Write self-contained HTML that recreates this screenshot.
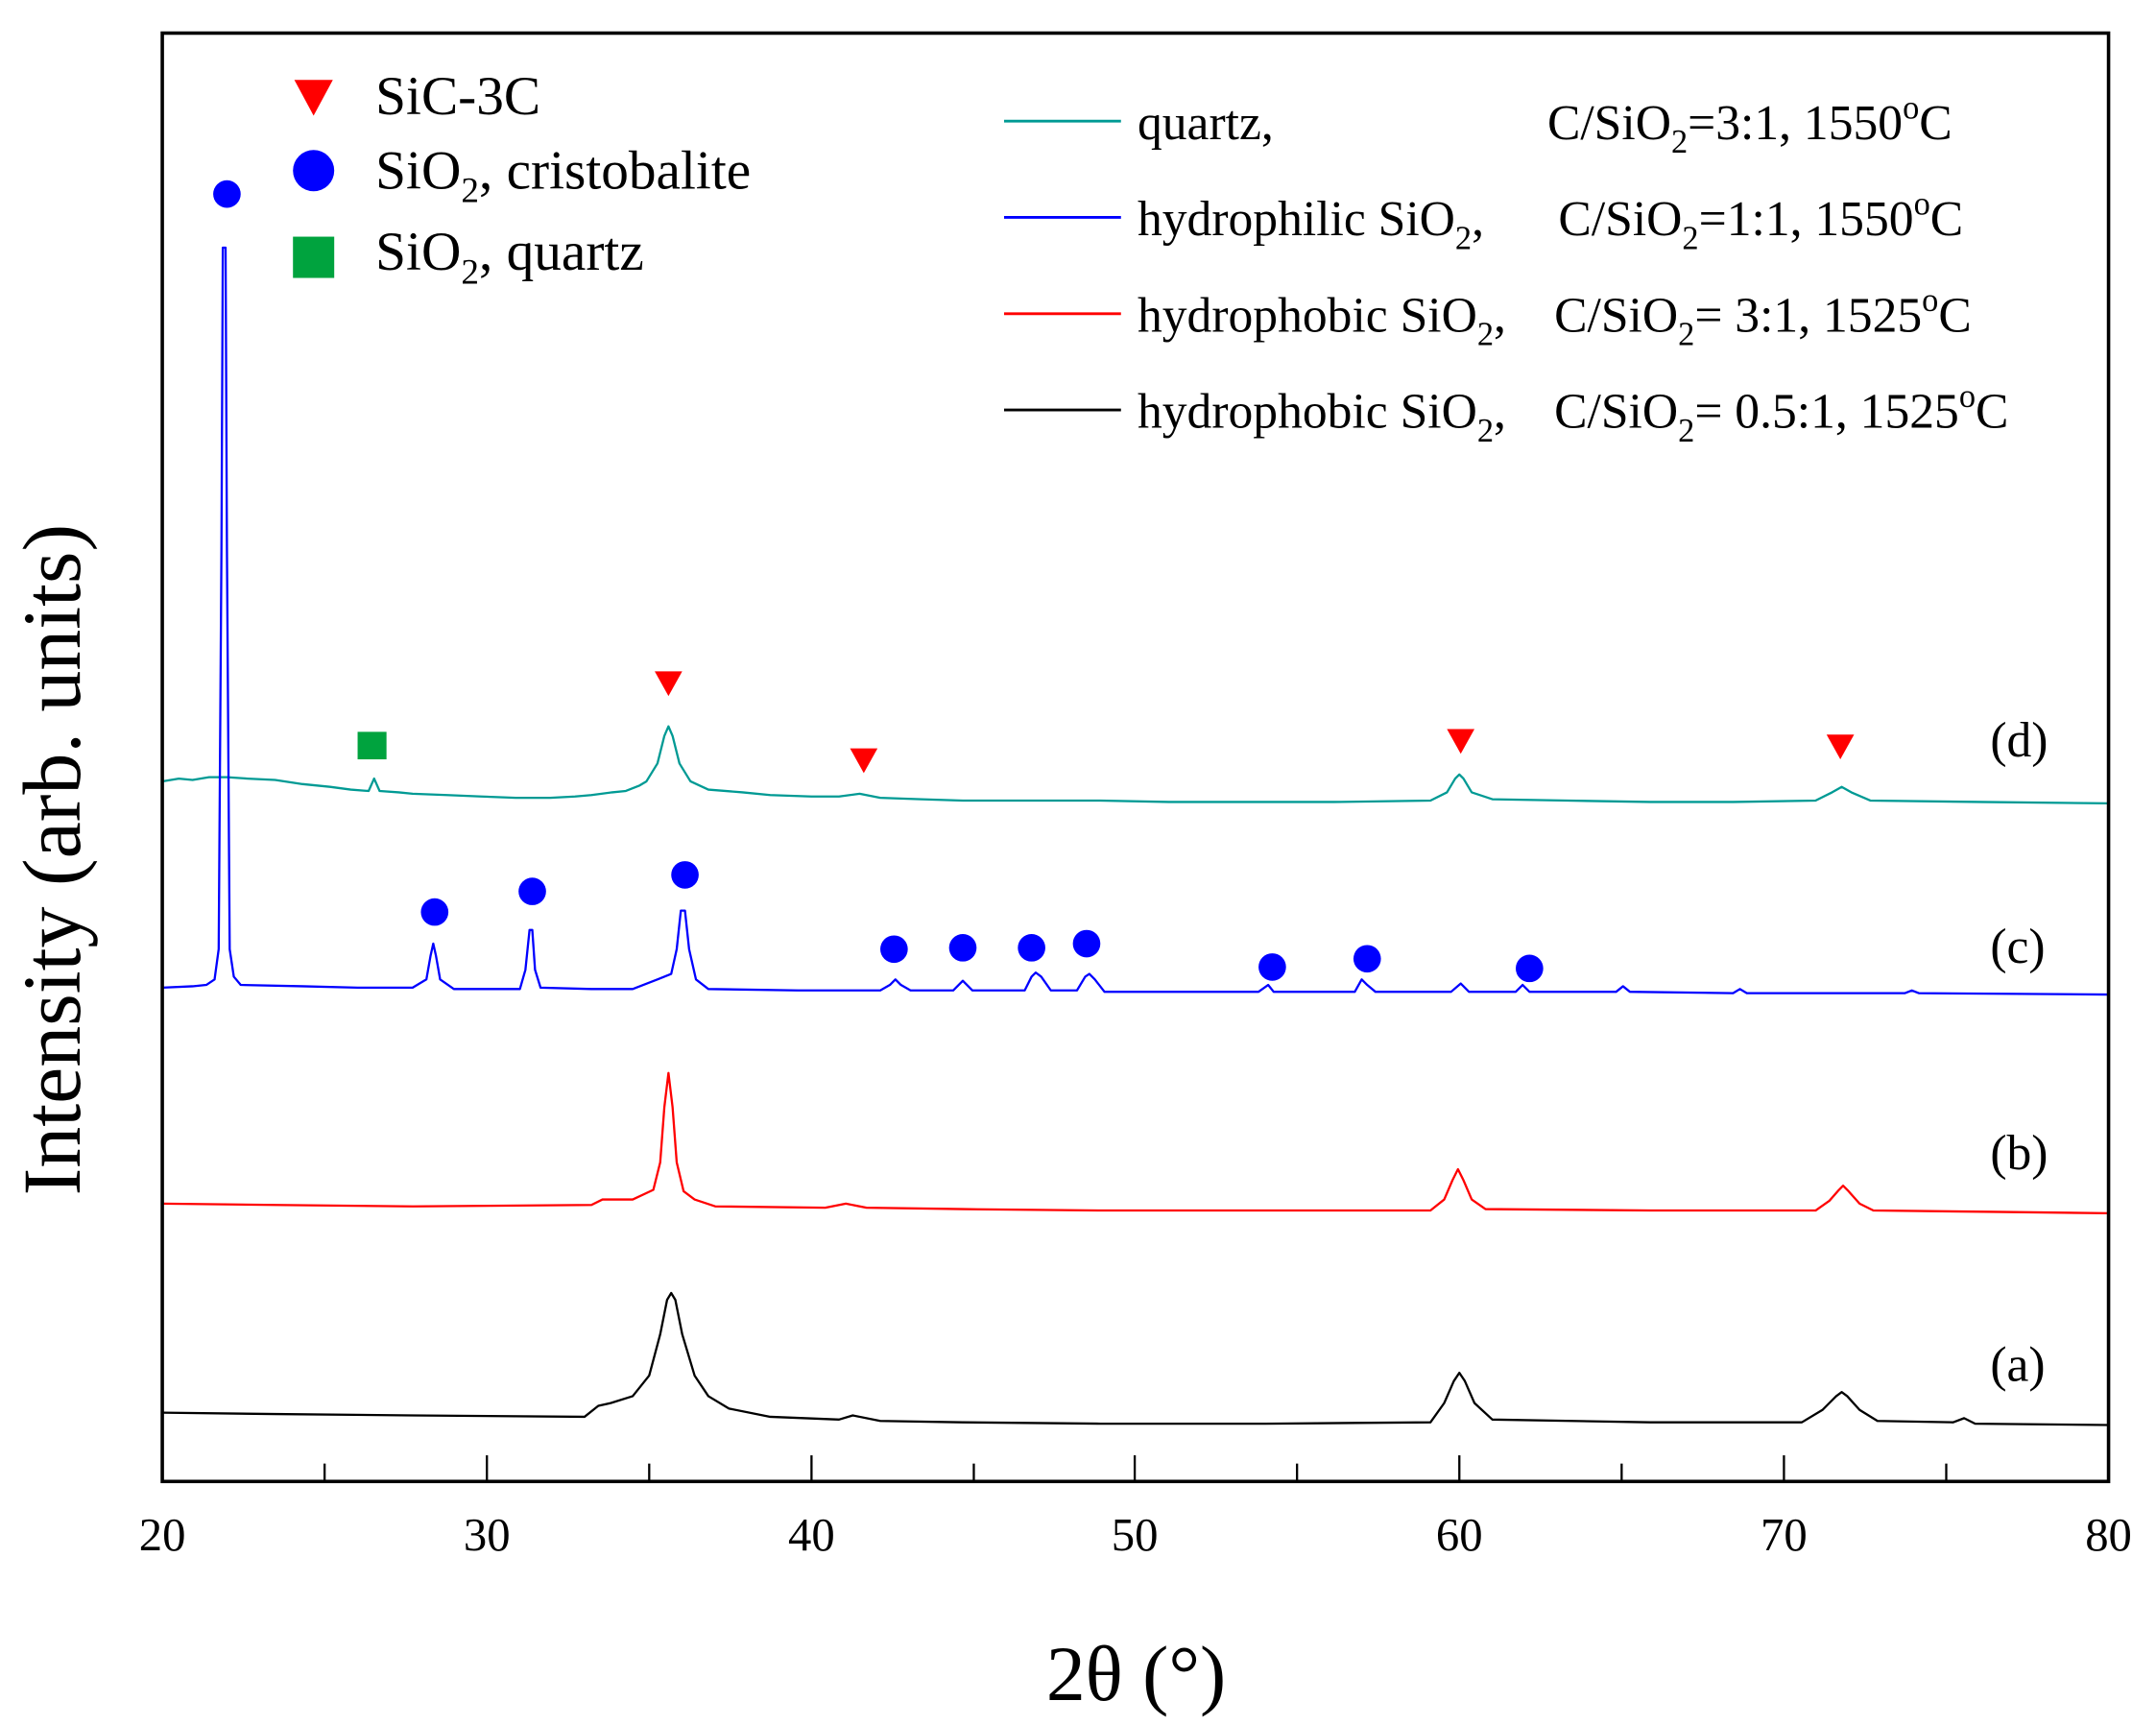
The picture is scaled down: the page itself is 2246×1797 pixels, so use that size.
<!DOCTYPE html>
<html><head><meta charset="utf-8"><style>
html,body{margin:0;padding:0;background:#fff;}
svg{display:block;}
text{font-family:"Liberation Serif",serif;fill:#000;}
</style></head><body>
<svg width="2246" height="1797" viewBox="0 0 1567.5 1254" xmlns="http://www.w3.org/2000/svg">
<rect x="0" y="0" width="1567.5" height="1254" fill="#fff"/>
<g fill="none" stroke-width="1.6" stroke-linejoin="round">
<path stroke="#009a94" d="M118,568 L130,566 L140,567 L152,565 L165,565 L180,566 L200,567 L220,570 L240,572 L255,574 L268,575 L272,566 L276,575 L290,576 L300,577 L325,578 L350,579 L375,580 L400,580 L418,579 L430,578 L445,576 L455,575 L465,571 L470,568 L478,555 L483,535 L486,528 L489,535 L494,555 L502,568 L515,574 L540,576 L560,578 L590,579 L610,579 L625,577 L640,580 L670,581 L700,582 L750,582 L800,582 L850,583 L900,583 L970,583 L1040,582 L1052,576 L1058,566 L1061,563 L1064,566 L1070,576 L1085,581 L1140,582 L1200,583 L1260,583 L1320,582 L1332,576 L1339,572 L1346,576 L1360,582 L1440,583 L1533,584"/>
<path stroke="#0000ff" d="M118,718 L140,717 L150,716 L156,712 L159,690 L161,400 L162,180 L164,180 L165,400 L167,690 L170,710 L175,716 L220,717 L260,718 L300,718 L310,712 L313,695 L315,686 L317,695 L320,712 L330,719 L378,719 L382,705 L385,676 L387,676 L389,705 L393,718 L430,719 L460,719 L478,712 L488,708 L492,690 L495,662 L498,662 L501,690 L506,712 L515,719 L580,720 L640,720 L647,716 L651,712 L655,716 L662,720 L693,720 L700,713 L707,720 L745,720 L750,710 L753,707 L757,710 L764,720 L783,720 L789,710 L792,708 L796,712 L803,721 L860,721 L915,721 L922,716 L926,721 L985,721 L990,712 L994,716 L1000,721 L1055,721 L1062,715 L1068,721 L1102,721 L1107,716 L1112,721 L1175,721 L1180,717 L1185,721 L1260,722 L1265,719 L1270,722 L1385,722 L1390,720 L1395,722 L1533,723"/>
<path stroke="#ff0000" d="M118,875 L200,876 L300,877 L430,876 L438,872 L460,872 L475,865 L480,845 L483,805 L486,780 L489,805 L492,845 L497,866 L505,872 L520,877 L600,878 L615,875 L630,878 L700,879 L800,880 L920,880 L1040,880 L1050,872 L1056,858 L1060,850 L1064,858 L1070,872 L1080,879 L1200,880 L1320,880 L1330,873 L1337,865 L1340,862 L1344,866 L1352,875 L1362,880 L1450,881 L1533,882"/>
<path stroke="#000000" d="M118,1027 L200,1028 L300,1029 L425,1030 L435,1022 L444,1020 L460,1015 L472,1000 L480,970 L485,945 L488,940 L491,945 L496,970 L505,1000 L515,1015 L530,1024 L560,1030 L610,1032 L620,1029 L640,1033 L700,1034 L800,1035 L920,1035 L1040,1034 L1050,1020 L1057,1004 L1061,998 L1065,1004 L1072,1020 L1085,1032 L1200,1034 L1310,1034 L1325,1025 L1335,1015 L1339,1012 L1343,1015 L1352,1025 L1365,1033 L1420,1034 L1428,1031 L1436,1035 L1533,1036"/>
</g>
<rect x="118" y="24" width="1415" height="1053" fill="none" stroke="#000" stroke-width="2.5"/>
<g stroke="#000" stroke-width="1.6">
<line x1="236" y1="1077" x2="236" y2="1064"/><line x1="354" y1="1077" x2="354" y2="1058"/>
<line x1="472" y1="1077" x2="472" y2="1064"/><line x1="590" y1="1077" x2="590" y2="1058"/>
<line x1="708" y1="1077" x2="708" y2="1064"/><line x1="825" y1="1077" x2="825" y2="1058"/>
<line x1="943" y1="1077" x2="943" y2="1064"/><line x1="1061" y1="1077" x2="1061" y2="1058"/>
<line x1="1179" y1="1077" x2="1179" y2="1064"/><line x1="1297" y1="1077" x2="1297" y2="1058"/>
<line x1="1415" y1="1077" x2="1415" y2="1064"/>
</g>
<g font-size="34" text-anchor="middle">
<text x="118" y="1127">20</text><text x="354" y="1127">30</text><text x="590" y="1127">40</text>
<text x="825" y="1127">50</text><text x="1061" y="1127">60</text><text x="1297" y="1127">70</text><text x="1533" y="1127">80</text>
</g>
<text x="826" y="1236" font-size="57" text-anchor="middle">2θ (°)</text>
<text transform="translate(58,625) rotate(-90)" font-size="60" text-anchor="middle">Intensity (arb. units)</text>
<polygon points="214,58 242,58 228,84" fill="#f00"/>
<circle cx="228" cy="124" r="15" fill="#00f"/>
<rect x="213" y="172" width="30" height="30" fill="#00a33e"/>
<g font-size="40">
<text x="273" y="83">SiC-3C</text>
<text x="273" y="137">SiO<tspan font-size="26" dy="10">2</tspan><tspan dy="-10">, cristobalite</tspan></text>
<text x="273" y="196">SiO<tspan font-size="26" dy="10">2</tspan><tspan dy="-10">, quartz</tspan></text>
</g>
<g stroke-width="2">
<line x1="730" y1="88" x2="815" y2="88" stroke="#009a94"/>
<line x1="730" y1="158" x2="815" y2="158" stroke="#00f"/>
<line x1="730" y1="228" x2="815" y2="228" stroke="#f00"/>
<line x1="730" y1="298" x2="815" y2="298" stroke="#000"/>
</g>
<g font-size="36">
<text x="827" y="101">quartz,</text>
<text x="1125" y="101">C/SiO<tspan font-size="24" dy="10">2</tspan><tspan dy="-10">=3:1, 1550</tspan><tspan font-size="24" dy="-15">o</tspan><tspan dy="15">C</tspan></text>
<text x="827" y="171">hydrophilic SiO<tspan font-size="24" dy="10">2</tspan><tspan dy="-10">,</tspan></text>
<text x="1133" y="171">C/SiO<tspan font-size="24" dy="10">2</tspan><tspan dy="-10">=1:1, 1550</tspan><tspan font-size="24" dy="-15">o</tspan><tspan dy="15">C</tspan></text>
<text x="827" y="241">hydrophobic SiO<tspan font-size="24" dy="10">2</tspan><tspan dy="-10">,</tspan></text>
<text x="1130" y="241">C/SiO<tspan font-size="24" dy="10">2</tspan><tspan dy="-10">= 3:1, 1525</tspan><tspan font-size="24" dy="-15">o</tspan><tspan dy="15">C</tspan></text>
<text x="827" y="311">hydrophobic SiO<tspan font-size="24" dy="10">2</tspan><tspan dy="-10">,</tspan></text>
<text x="1130" y="311">C/SiO<tspan font-size="24" dy="10">2</tspan><tspan dy="-10">= 0.5:1, 1525</tspan><tspan font-size="24" dy="-15">o</tspan><tspan dy="15">C</tspan></text>
</g>
<g font-size="36">
<text x="1447" y="550">(d)</text>
<text x="1447" y="700">(c)</text>
<text x="1447" y="850">(b)</text>
<text x="1447" y="1004">(a)</text>
</g>
<rect x="260" y="532" width="21" height="20" fill="#00a33e"/>
<g fill="#f00">
<polygon points="476,488 496,488 486,506"/>
<polygon points="618,544 638,544 628,562"/>
<polygon points="1052,530 1072,530 1062,548"/>
<polygon points="1328,534 1348,534 1338,552"/>
</g>
<g fill="#00f">
<circle cx="165" cy="141" r="10"/><circle cx="316" cy="663" r="10"/><circle cx="387" cy="648" r="10"/>
<circle cx="498" cy="636" r="10"/><circle cx="650" cy="690" r="10"/><circle cx="700" cy="689" r="10"/>
<circle cx="750" cy="689" r="10"/><circle cx="790" cy="686" r="10"/><circle cx="925" cy="703" r="10"/>
<circle cx="994" cy="697" r="10"/><circle cx="1112" cy="704" r="10"/>
</g>
</svg>
</body></html>
